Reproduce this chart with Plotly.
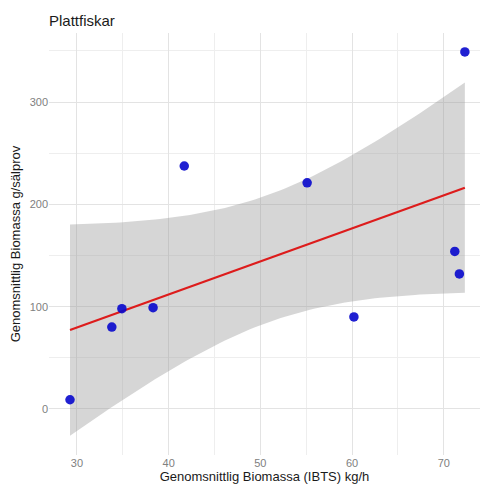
import numpy as np
import plotly.graph_objects as go

# Mean biomass per station: IBTS survey (kg/h) vs seal diet samples (g/sample)
ibts_kgh = [29.24, 33.8, 34.9, 38.3, 41.7, 55.1, 60.2, 71.2, 71.7, 72.3]
seal_g = [9, 80, 98, 99, 237.5, 221, 90, 154, 132, 349]

x_ticks = [30, 40, 50, 60, 70]
y_ticks = [0, 100, 200, 300]

# Linear fit with 95% confidence band for the mean
x = np.array(ibts_kgh, dtype=float)
y = np.array(seal_g, dtype=float)
n = len(x)
slope, intercept = np.polyfit(x, y, 1)
resid = y - (intercept + slope * x)
s = np.sqrt(np.sum(resid ** 2) / (n - 2))
xm = x.mean()
sxx = np.sum((x - xm) ** 2)
t_crit = 2.306  # t quantile, 0.975, df = 8

xs = np.linspace(x.min(), x.max(), 80)
fit = intercept + slope * xs
se = s * np.sqrt(1 / n + (xs - xm) ** 2 / sxx)
upper = fit + t_crit * se
lower = fit - t_crit * se

fig = go.Figure()
fig.add_trace(go.Scatter(
    x=np.concatenate([xs, xs[::-1]]),
    y=np.concatenate([upper, lower[::-1]]),
    fill="toself", fillcolor="rgba(153,153,153,0.4)",
    line=dict(width=0), hoverinfo="skip", showlegend=False,
))
fig.add_trace(go.Scatter(
    x=xs, y=fit, mode="lines",
    line=dict(color="#dd1c1c", width=2.2), showlegend=False,
))
fig.add_trace(go.Scatter(
    x=ibts_kgh, y=seal_g, mode="markers",
    marker=dict(color="rgba(8,8,205,0.9)", size=9.5, line=dict(width=0)),
    showlegend=False,
))

grid = "#e3e3e3"
fig.update_layout(
    width=480, height=492,
    margin=dict(l=49, r=0, t=33, b=37),
    paper_bgcolor="white", plot_bgcolor="white",
    font=dict(family="Liberation Sans, Arial, sans-serif", color="#333333"),
    title=dict(text="Plattfiskar", x=0, xref="paper", xanchor="left",
               y=1 - 21 / 492, yanchor="middle",
               font=dict(size=15, color="#1a1a1a")),
    xaxis=dict(
        range=[26.95, 73.95], tickvals=x_ticks, ticktext=[str(v) for v in x_ticks],
        showgrid=True, gridcolor=grid, gridwidth=1, zeroline=False,
        showline=False, ticks="", tickfont=dict(size=11, color="#808080"),
        minor=dict(dtick=5, tick0=25, showgrid=True, gridcolor="#eeeeee", gridwidth=0.7),
        title=dict(text="Genomsnittlig Biomassa (IBTS) kg/h",
                   font=dict(size=13, color="#1a1a1a"), standoff=2),
    ),
    yaxis=dict(
        range=[-45, 367.5], tickvals=y_ticks, ticktext=[str(v) for v in y_ticks],
        showgrid=True, gridcolor=grid, gridwidth=1, zeroline=False,
        showline=False, ticks="", tickfont=dict(size=11, color="#808080"),
        minor=dict(dtick=50, tick0=-50, showgrid=True, gridcolor="#eeeeee", gridwidth=0.7),
        title=dict(text="Genomsnittlig Biomassa g/sälprov",
                   font=dict(size=13, color="#1a1a1a"), standoff=6),
    ),
)

fig.write_html("out.html")
